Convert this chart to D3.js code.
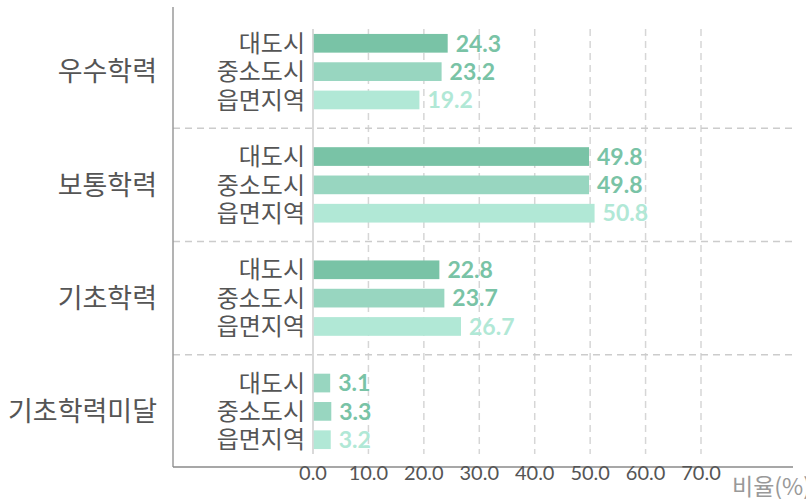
<!DOCTYPE html>
<html>
<head>
<meta charset="utf-8">
<script src="https://cdn.jsdelivr.net/npm/d3@7"></script>
<style>
  body { margin: 0; background: #fff; }
  svg { display: block; }
  .lbl { font-family: "Noto Sans CJK KR", "Noto Sans", sans-serif; fill: #555; }
  .num { font-family: Lato, "Noto Sans", sans-serif; }
</style>
</head>
<body>
<div id="chart"></div>
<script>
const groups = ["우수학력", "보통학력", "기초학력", "기초학력미달"];
const regions = ["대도시", "중소도시", "읍면지역"];
// values per group, in region order
const values = [
    [24.3, 23.2, 19.2],
    [49.8, 49.8, 50.8],
    [22.8, 23.7, 26.7],
    [3.1, 3.3, 3.2]
];
const ticks = [0, 10, 20, 30, 40, 50, 60, 70];
const axisTitle = "비율(%)";

const width = 806,
    height = 499;

const barColors = ["#79c3a6", "#98d6c0", "#b1e8d6"];
const labelColors = ["#79c3a6", "#79c3a6", "#b1e8d6"];

const svg = d3.select("#chart")
    .append("svg")
    .attr("width", width)
    .attr("height", height);

let xScale = d3.scaleLinear()
    .domain([0, 70])
    .range([313, 701]);

let yGroup = d3.scaleBand()
    .domain(groups)
    .range([15, 468]);

let ySub = d3.scaleBand()
    .domain(regions)
    .range([-42.5, 42.5])
    .paddingInner(0.34)
    .paddingOuter(0.17);

// vertical dashed grid
svg.append("g")
    .selectAll("line")
    .data(ticks.slice(1))
    .join("line")
    .attr("x1", d => xScale(d))
    .attr("x2", d => xScale(d))
    .attr("y1", 29)
    .attr("y2", 454)
    .attr("stroke", "#d6d6d6")
    .attr("stroke-width", 1.5)
    .attr("stroke-dasharray", "7,5");

// zero line
svg.append("line")
    .attr("x1", xScale(0)).attr("x2", xScale(0))
    .attr("y1", 29).attr("y2", 454)
    .attr("stroke", "#cccccc")
    .attr("stroke-width", 1.5);

// group separators
svg.append("g")
    .selectAll("line")
    .data(groups.slice(1))
    .join("line")
    .attr("x1", 173)
    .attr("x2", 793)
    .attr("y1", d => yGroup(d))
    .attr("y2", d => yGroup(d))
    .attr("stroke", "#cccccc")
    .attr("stroke-width", 1.5)
    .attr("stroke-dasharray", "7,5");

// left axis line and bottom axis line
svg.append("line")
    .attr("x1", 173).attr("x2", 173)
    .attr("y1", 7).attr("y2", 467)
    .attr("stroke", "#9a9a9a")
    .attr("stroke-width", 1.5);
svg.append("line")
    .attr("x1", 173).attr("x2", 793)
    .attr("y1", 467).attr("y2", 467)
    .attr("stroke", "#8a8a8a")
    .attr("stroke-width", 1.5);

const g = svg.append("g")
    .selectAll("g")
    .data(groups)
    .join("g")
    .attr("transform", d => "translate(0," + (yGroup(d) + yGroup.bandwidth() / 2) + ")");

// group labels
g.append("text")
    .attr("class", "lbl")
    .attr("x", 157)
    .attr("y", 0)
    .attr("dy", "0.36em")
    .attr("text-anchor", "end")
    .style("font-size", "27px")
    .text(d => d);

const rows = g.selectAll(".row")
    .data((d, i) => regions.map((r, j) => ({ region: r, value: values[i][j], gi: i, si: j })))
    .join("g")
    .attr("class", "row")
    .attr("transform", d => "translate(0," + ySub(d.region) + ")");

rows.append("text")
    .attr("class", "lbl")
    .attr("x", 305)
    .attr("y", ySub.bandwidth() / 2)
    .attr("dy", "0.36em")
    .attr("text-anchor", "end")
    .style("font-size", "24px")
    .text(d => d.region);

rows.append("rect")
    .attr("x", xScale(0) + 0.75)
    .attr("y", 0)
    .attr("width", d => xScale(d.value) - xScale(0) - 0.75)
    .attr("height", ySub.bandwidth())
    .attr("fill", d => (d.gi == 3 && d.si == 0) ? barColors[1] : barColors[d.si]);

rows.append("text")
    .attr("class", "num")
    .attr("x", d => xScale(d.value) + 8)
    .attr("y", ySub.bandwidth() / 2)
    .attr("dy", "0.36em")
    .attr("fill", d => labelColors[d.si])
    .style("font-size", "23px")
    .style("font-weight", "bold")
    .text(d => d3.format(".1f")(d.value));

// tick labels
svg.append("g")
    .selectAll("text")
    .data(ticks)
    .join("text")
    .attr("class", "num")
    .attr("x", d => xScale(d))
    .attr("y", 480)
    .attr("text-anchor", "middle")
    .attr("fill", "#555")
    .style("font-size", "20px")
    .text(d => d3.format(".1f")(d));

svg.append("text")
    .attr("class", "lbl")
    .attr("x", 732)
    .attr("y", 495)
    .style("font-size", "23px")
    .style("fill", "#999")
    .text(axisTitle);
</script>
</body>
</html>
